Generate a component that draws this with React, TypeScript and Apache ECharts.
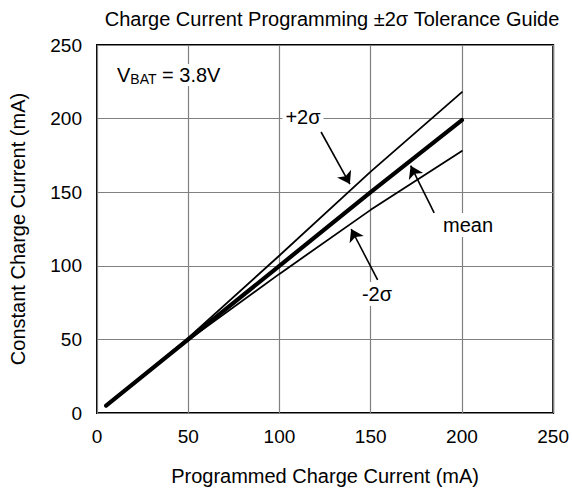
import React, { useEffect, useRef } from "react";
import * as echarts from "echarts";

const xTicks = [0, 50, 100, 150, 200, 250];
const yTicks = [0, 50, 100, 150, 200, 250];
const programmed = [5, 50, 100, 150, 200];
const meanValues = [5, 50, 100, 150, 199];
const plus2Sigma = [5, 51, 107, 164, 218];
const minus2Sigma = [5, 49.5, 94.5, 138, 178];

// annotation arrows in data coordinates: [tailX, tailY, headX, headY]
const arrowPlus = [122.8, 190.9, 138.6, 155.5];
const arrowMean = [184.8, 135.9, 171.9, 168.0];
const arrowMinus = [153.8, 90.4, 139.3, 125.0];

const FONT = "'Liberation Sans', Arial, sans-serif";

export default function App() {
  const ref = useRef<HTMLDivElement>(null);
  useEffect(() => {
    if (!ref.current) return;
    const chart = echarts.init(ref.current, undefined, { renderer: "svg" });
    const pair = (a: number[]) => [
      { coord: [a[0], a[1]] },
      { coord: [a[2], a[3]] },
    ];
    const zip = (ys: number[]) => programmed.map((x, i) => [x, ys[i]]);
    const lineSeries = (name: string, ys: number[], w: number, extra: any = {}) => ({
      type: "line",
      name,
      data: zip(ys),
      symbol: "none",
      lineStyle: { color: "#000", width: w, cap: "round" },
      silent: true,
      ...extra,
    });
    chart.setOption({
      animation: false,
      backgroundColor: "#fff",
      textStyle: { fontFamily: FONT },
      title: {
        text: "Charge Current Programming ±2σ Tolerance Guide",
        left: 327,
        textAlign: "center",
        top: 4,
        textStyle: { fontFamily: FONT, fontSize: 20, fontWeight: "normal", color: "#000" },
      },
      grid: {
        left: 97,
        right: 15,
        top: 45,
        bottom: 78,
        show: true,
        borderColor: "#000",
        borderWidth: 2,
      },
      xAxis: {
        type: "value",
        min: xTicks[0],
        max: xTicks[xTicks.length - 1],
        interval: 50,
        name: "Programmed Charge Current (mA)",
        nameLocation: "middle",
        nameGap: 53,
        nameTextStyle: { fontFamily: FONT, fontSize: 20, color: "#000" },
        axisLine: { show: false },
        axisTick: { show: false },
        axisLabel: { fontFamily: FONT, fontSize: 19, color: "#000", margin: 14 },
        splitLine: { show: true, lineStyle: { color: "#808080", width: 1.2 } },
      },
      yAxis: {
        type: "value",
        min: yTicks[0],
        max: yTicks[yTicks.length - 1],
        interval: 50,
        name: "Constant Charge Current (mA)",
        nameLocation: "middle",
        nameGap: 69,
        nameTextStyle: { fontFamily: FONT, fontSize: 20, color: "#000" },
        axisLine: { show: false },
        axisTick: { show: false },
        axisLabel: { fontFamily: FONT, fontSize: 19, color: "#000", margin: 15 },
        splitLine: { show: true, lineStyle: { color: "#808080", width: 1.2 } },
      },
      series: [
        lineSeries("+2σ", plus2Sigma, 1.8),
        lineSeries("-2σ", minus2Sigma, 1.8),
        lineSeries("mean", meanValues, 4.2, {
          markLine: {
            silent: true,
            symbol: ["none", "arrow"],
            symbolSize: 12,
            label: { show: false },
            itemStyle: { color: "#000" },
            lineStyle: { color: "#000", width: 1.6, type: "solid" },
            emphasis: { disabled: true },
            data: [pair(arrowPlus), pair(arrowMean), pair(arrowMinus)],
          },
        }),
      ],
      graphic: [
        {
          type: "text",
          x: 117,
          y: 75,
          z: 100,
          style: {
            text: "V{sub|BAT} = 3.8V",
            fontFamily: FONT,
            fontSize: 20,
            fill: "#000",
            verticalAlign: "middle",
            backgroundColor: "#fff",
            rich: {
              sub: { fontFamily: FONT, fontSize: 14, fill: "#000", verticalAlign: "bottom", padding: [8, 0, 0, 0] },
            },
          },
        },
        {
          type: "text",
          x: 303,
          y: 117,
          z: 100,
          style: {
            text: "+2σ",
            fontFamily: FONT,
            fontSize: 20,
            fill: "#000",
            align: "center",
            verticalAlign: "middle",
            backgroundColor: "#fff",
            padding: [2, 3],
          },
        },
        {
          type: "text",
          x: 468,
          y: 225,
          z: 100,
          style: {
            text: "mean",
            fontFamily: FONT,
            fontSize: 20,
            fill: "#000",
            align: "center",
            verticalAlign: "middle",
            backgroundColor: "#fff",
            padding: [2, 3],
          },
        },
        {
          type: "text",
          x: 377,
          y: 294,
          z: 100,
          style: {
            text: "-2σ",
            fontFamily: FONT,
            fontSize: 20,
            fill: "#000",
            align: "center",
            verticalAlign: "middle",
            backgroundColor: "#fff",
            padding: [2, 3],
          },
        },
      ],
    });
    return () => chart.dispose();
  }, []);
  return (
    <div
      ref={ref}
      style={{ position: "fixed", left: 0, top: 0, width: 572, height: 491, background: "#fff" }}
    />
  );
}
